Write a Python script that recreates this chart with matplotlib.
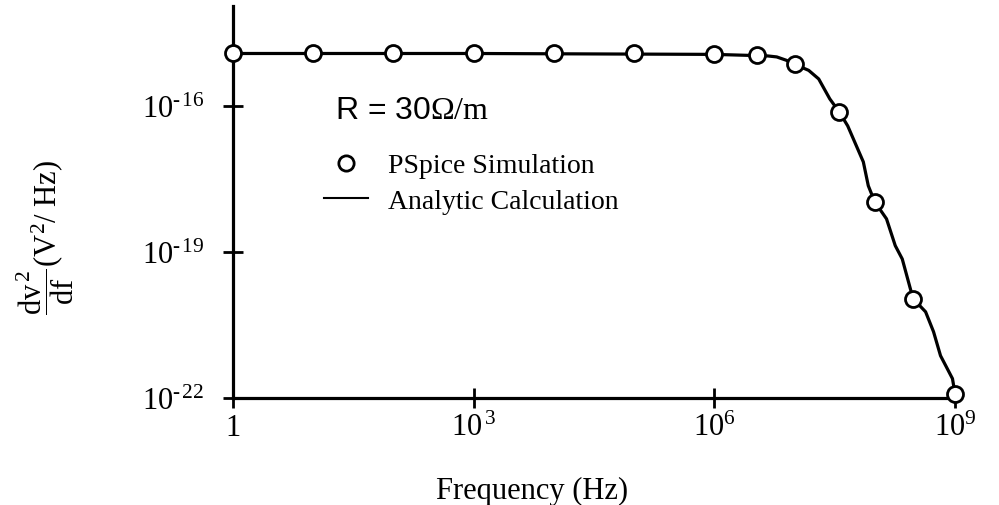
import numpy as np
import matplotlib
matplotlib.use("Agg")
import matplotlib.pyplot as plt
from matplotlib.lines import Line2D

plt.rcParams['font.family'] = 'Liberation Serif'
plt.rcParams['mathtext.fontset'] = 'custom'
plt.rcParams['mathtext.rm'] = 'Liberation Serif'
plt.rcParams['mathtext.it'] = 'Liberation Serif:italic'

# PSpice simulation points (Hz, V^2/Hz)
freq_sim = [1, 10, 100, 1e3, 1e4, 1e5, 1e6, 3.4e6, 1e7, 3.6e7, 1e8, 3e8, 1e9]
psd_sim = [1.2e-15, 1.2e-15, 1.2e-15, 1.2e-15, 1.2e-15, 1.2e-15, 1.15e-15,
           1.1e-15, 7.2e-16, 7.6e-17, 1.07e-18, 1.1e-20, 1.23e-22]

# analytic calculation curve
freq_ana = [1, 1e3, 1e6, 4.6e6, 6.0e6, 7.9e6, 1e7, 1.5e7, 2.0e7, 2.75e7, 3.6e7,
            4.6e7, 7.2e7, 8.3e7, 1e8, 1.4e8, 1.8e8, 2.2e8, 3e8, 4.3e8, 5.4e8,
            6.6e8, 9.3e8, 1e9]
psd_ana = [1.2e-15, 1.2e-15, 1.15e-15, 1.07e-15, 1.02e-15, 8.7e-16, 7.2e-16,
           5.4e-16, 3.6e-16, 1.4e-16, 7.6e-17, 3.9e-17, 7.1e-18, 2.3e-18,
           1.07e-18, 4.8e-19, 1.35e-19, 7.2e-20, 1.1e-20, 5.9e-21, 2.3e-21,
           7.4e-22, 2.5e-22, 1.23e-22]

xticks = [1, 1e3, 1e6, 1e9]
xticklabels = ["1", r"$10^{\,3}$", r"$10^{6}$", r"$10^{9}$"]
yticks = [1e-22, 1e-19, 1e-16]
yticklabels = ["$10^{\u2010\u200a22}$", "$10^{\u2010\u200a19}$", "$10^{\u2010\u200a16}$"]

W, H = 999, 506
fig = plt.figure(figsize=(W / 100, H / 100), dpi=100)
ax = fig.add_axes([233 / W, 1 - 399 / H, (955 - 233) / W, (399 - 7) / H])

ax.plot(freq_ana, psd_ana, color='black', lw=2.3, solid_joinstyle='round',
        clip_on=False, zorder=2)
ax.plot(freq_sim, psd_sim, 'o', mfc='white', mec='black', mew=2.0, ms=11.5,
        clip_on=False, zorder=3)

ax.set_xscale('log')
ax.set_yscale('log')
ax.set_xlim(1, 1e9)
ax.set_ylim(1e-22, 10 ** (-13.945))

ax.set_xticks(xticks)
ax.set_xticklabels(xticklabels)
ax.set_yticks(yticks)
ax.set_yticklabels(yticklabels)
ax.minorticks_off()
ax.tick_params(axis='both', direction='inout', length=14, width=2.0,
               labelsize=22)
ax.tick_params(axis='x', pad=4)
ax.tick_params(axis='y', pad=14)

for s in ['top', 'right']:
    ax.spines[s].set_visible(False)
for s in ['left', 'bottom']:
    ax.spines[s].set_linewidth(2.3)

fig.text(532 / W, 1 - 491 / H, "Frequency (Hz)", fontsize=22,
         ha='center', va='center')
fig.text(45 / W, 1 - 238 / H,
         r"$\dfrac{\mathrm{dv}^{\,2}}{\mathrm{df}}$(V$^2$/ Hz)",
         fontsize=22, rotation=90, ha='center', va='center')

fig.text(335 / W, 1 - 111 / H, r"R = 30$\mathrm{\Omega/m}$", fontsize=23,
         family='Liberation Sans', ha='left', va='center')

handles = [Line2D([], [], ls='none', marker='o', mfc='white', mec='black',
                  mew=2.0, ms=11),
           Line2D([], [], color='black', lw=1.5)]
labels = ["PSpice Simulation", "Analytic Calculation"]
ax.legend(handles, labels, loc='upper left',
          bbox_to_anchor=(324 / W, 1 - 154 / H),
          bbox_transform=fig.transFigure, frameon=False, fontsize=20,
          handlelength=1.6, handletextpad=0.7, labelspacing=0.35,
          borderpad=0, borderaxespad=0)

fig.savefig("out.png", dpi=100)
